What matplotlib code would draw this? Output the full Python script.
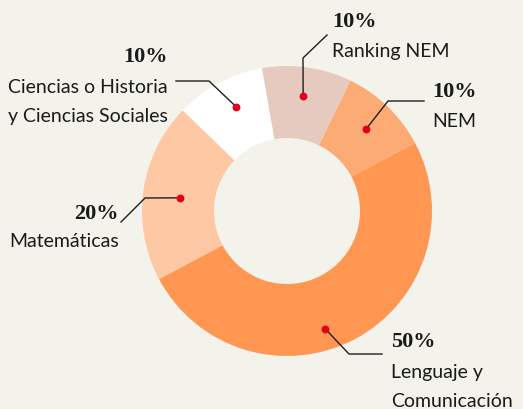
import numpy as np
import matplotlib
matplotlib.use("Agg")
import matplotlib.pyplot as plt

# data
labels = [["Ranking NEM"], ["NEM"], ["Lenguaje y", "Comunicación"], ["Matemáticas"],
          ["Ciencias o Historia", "y Ciencias Sociales"]]
values = [10, 10, 50, 20, 10]
pct_text = ["10%", "10%", "50%", "20%", "10%"]
colors = ["#E6CABF", "#FDAB74", "#FF9752", "#FFC8A4", "#FFFFFF"]

W, H = 523, 409
bg = "#F3F2EB"

fig = plt.figure(figsize=(W / 100, H / 100), dpi=100, facecolor=bg)
ax = fig.add_axes([0, 0, 1, 1])
ax.set_facecolor(bg)


def Y(y):
    # image row -> axis y
    return H - y


cx, cy = 287, Y(211)
R, r_in = 145, 73

wedges, _ = ax.pie(values, colors=colors, startangle=100, counterclock=False,
                   radius=R, center=(cx, cy), frame=True,
                   wedgeprops=dict(width=R - r_in, linewidth=0))
ax.set_xlim(0, W)
ax.set_ylim(0, H)
ax.set_aspect("equal")
ax.axis("off")

# dot placement (angle shift in degrees, radius)
dot_shift = [0, 0, -10, 1, -2]
dot_rad = [116, 114, 124, 108, 116]

# leader line bends/ends in image pixels
leaders = [
    [(303, 58), (327, 35)],
    [(388, 101), (424, 101)],
    [(349, 354), (382, 354)],
    [(145, 198), (121, 222)],
    [(209, 81), (176, 81)],
]

# text anchors: x, pct baseline, label baselines, ha
text_pos = [
    (332, 27, [57], "left"),
    (432, 97, [127], "left"),
    (391, 347, [378, 407], "left"),
    (119, 219, [247], "right"),
    (168, 62, [93, 122], "right"),
]

sans = ["Lato", "DejaVu Sans"]
serif = ["Liberation Serif", "DejaVu Serif"]

for i, w in enumerate(wedges):
    a = np.deg2rad((w.theta1 + w.theta2) / 2 + dot_shift[i])
    dx = cx + dot_rad[i] * np.cos(a)
    dy = cy + dot_rad[i] * np.sin(a)
    xs = [dx] + [p[0] for p in leaders[i]]
    ys = [dy] + [Y(p[1]) for p in leaders[i]]
    ax.plot(xs, ys, color="#1E1E1E", lw=1.0, zorder=3)
    ax.scatter([dx], [dy], s=32, color="#E3001B", zorder=4, linewidths=0)

    x, yp, yls, ha = text_pos[i]
    ax.text(x, Y(yp), pct_text[i], ha=ha, va="baseline", fontsize=16,
            fontweight="bold", family=serif, color="#1A1A1A")
    for line, yl in zip(labels[i], yls):
        ax.text(x, Y(yl), line, ha=ha, va="baseline", fontsize=14,
                family=sans, color="#1A1A1A")

fig.savefig("out.png", dpi=100, facecolor=bg)
